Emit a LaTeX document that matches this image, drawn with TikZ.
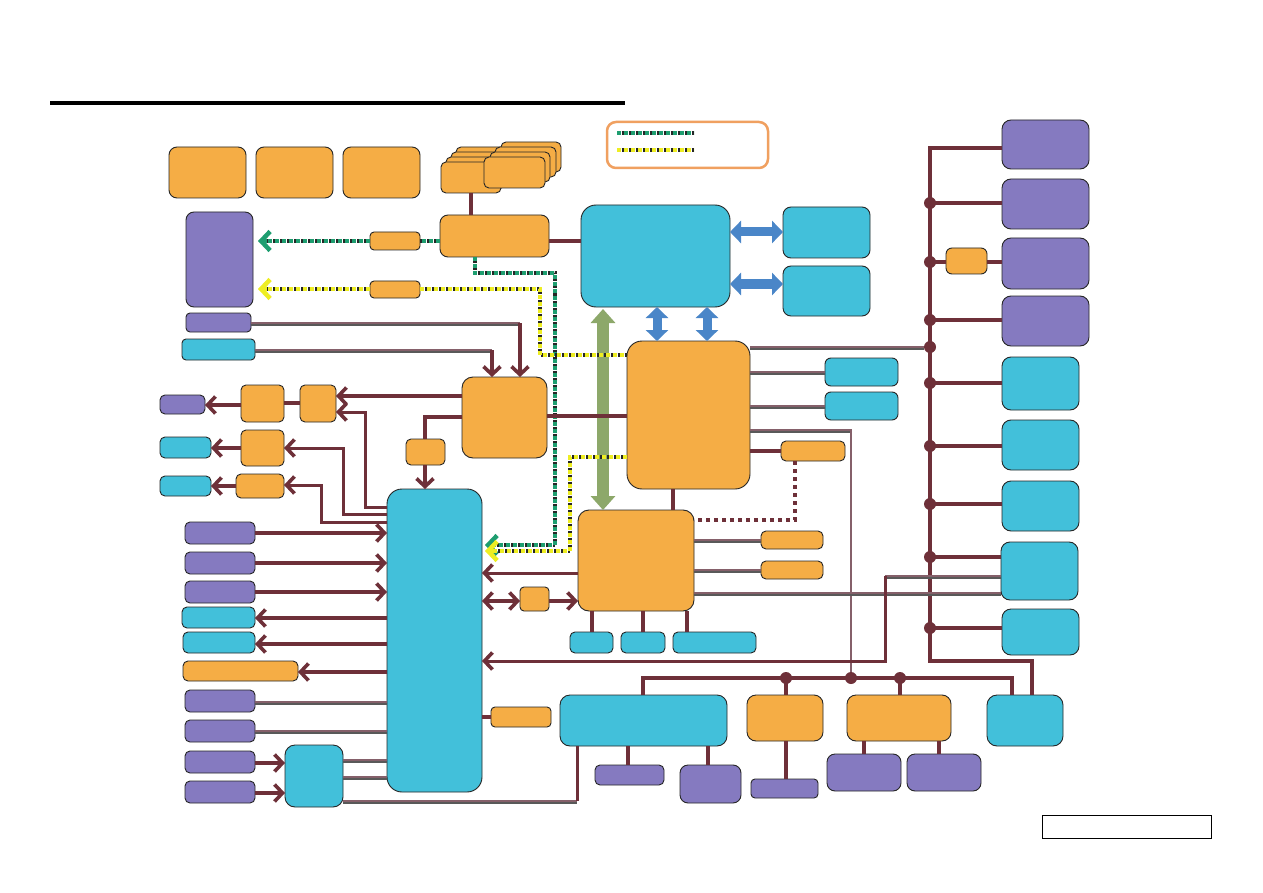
\documentclass[tikz,border=0pt]{standalone}
\usetikzlibrary{arrows.meta,fit,calc}
\definecolor{org}{HTML}{F5AD45}
\definecolor{cya}{HTML}{42C0DA}
\definecolor{pur}{HTML}{857AC0}
\definecolor{mar}{HTML}{6E3039}
\definecolor{mauve}{HTML}{85606A}
\definecolor{grn}{HTML}{1E9E70}
\definecolor{ylw}{HTML}{EEEE22}
\definecolor{bigg}{HTML}{8DA86A}
\definecolor{blu}{HTML}{4A86C8}
\definecolor{legc}{HTML}{F0A060}
\newcommand\bx[5][6pt]{\node[box,rounded corners=#1,fill=#3,fit={#4 #5}] (#2) {};}
\begin{document}
\begin{tikzpicture}[x=1pt,y=-1pt,
  box/.style={draw=black!85, line width=0.9pt, inner sep=0pt, outer sep=0pt},
  ln/.style={draw=mar, line width=3.8pt},
  thn/.style={draw=mar, line width=3pt},
  dl/.style={draw=mauve, line width=2.8pt, preaction={draw=black!65, line width=2.6pt, transform canvas={yshift=-1.6pt}}},
  tip/.style={-{Straight Barb[length=8pt,width=17pt,line width=3.6pt]}},
  tips/.style={{Straight Barb[length=8pt,width=17pt,line width=3.6pt]}-{Straight Barb[length=8pt,width=17pt,line width=3.6pt]}},
  gtip/.style={-{Straight Barb[length=9pt,width=19pt,line width=4.5pt]}},
  gdot/.style={draw=grn, line width=3.4pt, dash pattern=on 4pt off 3pt, preaction={draw=black!85, line width=3.4pt, dash pattern=on 2pt off 5pt, dash phase=-4.5pt}},
  ydot/.style={draw=ylw, line width=3.4pt, dash pattern=on 4pt off 3pt, preaction={draw=black!85, line width=3.4pt, dash pattern=on 2pt off 5pt, dash phase=-4.5pt}},
  mdot/.style={draw=mar, line width=3.4pt, dash pattern=on 4pt off 4pt},
  jdot/.style={circle, fill=mar, inner sep=0pt, minimum size=12pt},
  blarrow/.style={draw=blu, line width=9pt, {Triangle[length=11pt,width=22pt]}-{Triangle[length=11pt,width=22pt]}},
  grarrow/.style={draw=bigg, line width=12pt, {Triangle[length=14pt,width=24pt]}-{Triangle[length=14pt,width=24pt]}}
]
\useasboundingbox (0,0) rectangle (1263,893);
\fill[white] (0,0) rectangle (1263,893);
% title rule
\draw[line width=4pt] (50,103) -- (625,103);
% legend
\node[draw=legc, line width=2.5pt, rounded corners=9pt, fit={(607,122) (768,168)}, inner sep=0pt] (leg) {};
\draw[gdot] (617,133) -- (694,133);
\draw[ydot] (617,150) -- (694,150);
% footer box
\node[draw=black, line width=1pt, fit={(1042,815) (1211,838)}, inner sep=0pt] (foot) {};
% top row
\bx[8pt]{o1}{org}{(169,147)}{(246,198)}
\bx[8pt]{o2}{org}{(256,147)}{(333,198)}
\bx[8pt]{o3}{org}{(343,147)}{(420,198)}
% stacks
\bx[5pt]{sl4}{org}{(456,147)}{(516,178)}
\bx[5pt]{sl3}{org}{(451,152)}{(511,183)}
\bx[5pt]{sl2}{org}{(446,157)}{(506,188)}
\bx[5pt]{sl1}{org}{(441,162)}{(501,193)}
\bx[5pt]{sr4}{org}{(501,142)}{(561,172)}
\bx[5pt]{sr3}{org}{(495,147)}{(556,177)}
\bx[5pt]{sr2}{org}{(490,152)}{(550,182)}
\bx[5pt]{sr1}{org}{(484,157)}{(545,188)}
% upper center
\bx[8pt]{ohub}{org}{(440,215)}{(549,257)}
\bx[15pt]{cpu}{cya}{(581,205)}{(730,307)}
\bx[8pt]{c1}{cya}{(783,207)}{(870,258)}
\bx[8pt]{c2}{cya}{(783,266)}{(870,316)}
\bx[8pt]{pl}{pur}{(186,212)}{(253,307)}
\bx[4pt]{os1}{org}{(370,232)}{(420,250)}
\bx[4pt]{os2}{org}{(370,281)}{(420,298)}
\bx[4pt]{ps1}{pur}{(186,313)}{(251,332)}
\bx[4pt]{cs1}{cya}{(182,339)}{(255,360)}
% north bridge & right
\bx[15pt]{nb}{org}{(627,341)}{(750,489)}
\bx[6pt]{c3}{cya}{(825,358)}{(898,386)}
\bx[6pt]{c4}{cya}{(825,392)}{(898,420)}
\bx[5pt]{os3}{org}{(781,441)}{(845,461)}
% south bridge
\bx[11pt]{sb}{org}{(578,510)}{(694,611)}
\bx[5pt]{o5}{org}{(761,531)}{(823,549)}
\bx[5pt]{o6}{org}{(761,561)}{(823,579)}
\bx[5pt]{c5}{cya}{(570,632)}{(613,653)}
\bx[5pt]{c6}{cya}{(621,632)}{(665,653)}
\bx[5pt]{c7}{cya}{(673,632)}{(756,653)}
\bx[4pt]{o7}{org}{(520,587)}{(549,611)}
% EC / main left column
\bx[15pt]{ec}{cya}{(387,489)}{(482,792)}
\bx[11pt]{oh2}{org}{(462,377)}{(547,458)}
\bx[5pt]{o8}{org}{(300,385)}{(336,422)}
\bx[5pt]{o9}{org}{(241,385)}{(284,422)}
\bx[5pt]{p2}{pur}{(160,395)}{(205,414)}
\bx[5pt]{o10}{org}{(406,439)}{(445,465)}
\bx[5pt]{o11}{org}{(241,430)}{(284,466)}
\bx[5pt]{o12}{org}{(236,474)}{(284,498)}
\bx[5pt]{c8}{cya}{(160,437)}{(211,458)}
\bx[5pt]{c9}{cya}{(160,476)}{(211,496)}
\bx[5pt]{p3}{pur}{(185,522)}{(255,544)}
\bx[5pt]{p4}{pur}{(185,552)}{(255,574)}
\bx[5pt]{p5}{pur}{(185,581)}{(255,603)}
\bx[5pt]{c10}{cya}{(182,607)}{(255,628)}
\bx[5pt]{c11}{cya}{(183,632)}{(255,653)}
\bx[5pt]{o13}{org}{(183,661)}{(298,681)}
\bx[5pt]{p6}{pur}{(185,690)}{(255,712)}
\bx[5pt]{p7}{pur}{(185,720)}{(255,742)}
\bx[5pt]{p8}{pur}{(185,751)}{(255,773)}
\bx[5pt]{p9}{pur}{(185,781)}{(255,803)}
\bx[10pt]{c12}{cya}{(285,745)}{(343,807)}
\bx[4pt]{o14}{org}{(491,707)}{(551,727)}
% bottom
\bx[10pt]{c13}{cya}{(560,695)}{(727,746)}
\bx[9pt]{o15}{org}{(747,695)}{(823,741)}
\bx[9pt]{o16}{org}{(847,695)}{(951,741)}
\bx[10pt]{cr}{cya}{(987,695)}{(1063,746)}
\bx[5pt]{p10}{pur}{(595,765)}{(664,785)}
\bx[8pt]{p11}{pur}{(680,765)}{(741,803)}
\bx[4pt]{p12}{pur}{(751,779)}{(818,798)}
\bx[8pt]{p13}{pur}{(827,754)}{(901,791)}
\bx[8pt]{p14}{pur}{(907,754)}{(981,791)}
% right column
\bx[9pt]{r1}{pur}{(1002,120)}{(1089,169)}
\bx[9pt]{r2}{pur}{(1002,179)}{(1089,229)}
\bx[9pt]{r3}{pur}{(1002,238)}{(1089,289)}
\bx[9pt]{r4}{pur}{(1002,296)}{(1089,346)}
\bx[9pt]{r5}{cya}{(1002,357)}{(1079,410)}
\bx[9pt]{r6}{cya}{(1002,420)}{(1079,470)}
\bx[9pt]{r7}{cya}{(1002,481)}{(1079,531)}
\bx[9pt]{r8}{cya}{(1001,542)}{(1078,600)}
\bx[9pt]{r9}{cya}{(1002,609)}{(1079,655)}
\bx[6pt]{osr}{org}{(946,248)}{(987,274)}
% ---------------- connectors
% right bus
\coordinate (rbt) at (930,148);
\coordinate (rbb) at (930,661);
\draw[ln, line width=4pt] (r1.west |- rbt) -- (rbt) -- (rbb) -- (1032,661) -- (cr.north -| 1032,0);
\foreach \n/\y in {r2/203, r4/320, r5/383, r6/446, r7/504, r8/557, r9/628}{
  \draw[ln] (930,\y) -- (\n.west |- 0,\y);
}
\draw[ln] (930,262) -- (osr.west |- 0,262);
\draw[ln] (osr.east |- 0,262) -- (r3.west |- 0,262);
\foreach \y in {203,262,320,347,383,446,504,557,628}{ \node[jdot] (j\y) at (930,\y) {}; }
% bottom bus
\draw[ln] (c13.north -| 643,0) -- (643,678) -- (1012,678) -- (cr.north -| 1012,0);
\draw[ln] (786,678) -- (o15.north -| 786,0);
\draw[ln] (900,678) -- (o16.north -| 900,0);
\draw[dl] (nb.east |- 0,430) -- (851,430) -- (851,678);
\node[jdot] (b1) at (786,678) {};
\node[jdot] (b2) at (851,678) {};
\node[jdot] (b3) at (900,678) {};
% top connections
\draw[ln] (471,193) -- (ohub.north -| 471,0);
\draw[ln] (ohub.east |- 0,241) -- (cpu.west |- 0,241);
\draw[blarrow] (cpu.east |- 0,232) -- (c1.west |- 0,232);
\draw[blarrow] (cpu.east |- 0,284) -- (c2.west |- 0,284);
\draw[blarrow] (cpu.south -| 657,0) -- (nb.north -| 657,0);
\draw[blarrow] (cpu.south -| 707,0) -- (nb.north -| 707,0);
\draw[grarrow] ($(cpu.south -| 603,0)+(0,2)$) -- (sb.north -| 603,0);
% dotted signals
\draw[gdot] (ohub.west |- 0,241) -- (os1.east |- 0,241);
\draw[gdot] (os1.west |- 0,241) -- ($(pl.east |- 0,241)+(12,0)$);
\draw[grn, line width=4pt, gtip] ($(pl.east |- 0,241)+(14,0)$) -- ($(pl.east |- 0,241)+(5,0)$);
\draw[gdot] (ohub.south -| 475,0) -- (475,273) -- (555,273) -- (555,545) -- ($(ec.east |- 0,545)+(12,0)$);
\draw[grn, line width=4pt, gtip] ($(ec.east |- 0,545)+(14,0)$) -- ($(ec.east |- 0,545)+(3,0)$);
\draw[ydot] (os2.east |- 0,289) -- (540,289) -- (540,355) -- (nb.west |- 0,355);
\draw[ydot] (os2.west |- 0,289) -- ($(pl.east |- 0,289)+(12,0)$);
\draw[ylw, line width=4pt, gtip] ($(pl.east |- 0,289)+(14,0)$) -- ($(pl.east |- 0,289)+(5,0)$);
\draw[ydot] (nb.west |- 0,457) -- (570,457) -- (570,551) -- ($(ec.east |- 0,551)+(12,0)$);
\draw[ylw, line width=4pt, gtip] ($(ec.east |- 0,551)+(14,0)$) -- ($(ec.east |- 0,551)+(3,0)$);
\draw[mdot] (os3.south -| 795,0) -- (795,520) -- (sb.east |- 0,520);
% north bridge connections
\draw[dl] (nb.east |- 0,347) -- (j347);
\draw[dl] (nb.east |- 0,372) -- (c3.west |- 0,372);
\draw[dl] (nb.east |- 0,406) -- (c4.west |- 0,406);
\draw[ln] (nb.east |- 0,451) -- (os3.west |- 0,451);
\draw[ln] (nb.south -| 673,0) -- (sb.north -| 673,0);
\draw[ln] (oh2.east |- 0,416) -- (nb.west |- 0,416);
% south bridge connections
\draw[dl] (sb.east |- 0,540) -- (o5.west |- 0,540);
\draw[dl] (sb.east |- 0,570) -- (o6.west |- 0,570);
\draw[dl] (sb.east |- 0,593) -- (r8.west |- 0,593);
\draw[dl] (r8.west |- 0,576) -- (885,576);
\draw[thn, tip] (885,576) -- (885,661) -- (ec.east |- 0,661);
\draw[ln] (sb.south -| 592,0) -- (c5.north -| 592,0);
\draw[ln] (sb.south -| 643,0) -- (c6.north -| 643,0);
\draw[ln] (sb.south -| 687,0) -- (c7.north -| 687,0);
\draw[thn, tip] (sb.west |- 0,573) -- (ec.east |- 0,573);
\draw[ln, tips] (ec.east |- 0,601) -- (o7.west |- 0,601);
\draw[ln, tip] (o7.east |- 0,601) -- (sb.west |- 0,601);
% hub 2 connections
\draw[dl] (ps1.east |- 0,323) -- (520,323);
\draw[ln, tip] (520,323) -- (oh2.north -| 520,0);
\draw[dl] (cs1.east |- 0,350) -- (492,350);
\draw[ln, tip] (492,350) -- (oh2.north -| 492,0);
\draw[ln, tip] (oh2.west |- 0,396) -- (o8.east |- 0,396);
\draw[ln] (o9.east |- 0,403) -- (o8.west |- 0,403);
\draw[ln, tip] (o9.west |- 0,405) -- (p2.east |- 0,405);
\draw[ln] (oh2.west |- 0,417) -- (425,417) -- (o10.north -| 425,0);
\draw[ln, tip] (o10.south -| 425,0) -- (ec.north -| 425,0);
\draw[thn, tip] (ec.west |- 0,507) -- (365,507) -- (365,412) -- (o8.east |- 0,412);
\draw[thn, tip] (ec.west |- 0,514) -- (343,514) -- (343,448) -- (o11.east |- 0,448);
\draw[thn, tip] (ec.west |- 0,522) -- (321,522) -- (321,485) -- (o12.east |- 0,485);
\draw[ln, tip] (o11.west |- 0,448) -- (c8.east |- 0,448);
\draw[ln, tip] (o12.west |- 0,486) -- (c9.east |- 0,486);
% EC left side
\draw[ln, tip] (p3.east |- 0,533) -- (ec.west |- 0,533);
\draw[ln, tip] (p4.east |- 0,563) -- (ec.west |- 0,563);
\draw[ln, tip] (p5.east |- 0,592) -- (ec.west |- 0,592);
\draw[ln, tip] (ec.west |- 0,618) -- (c10.east |- 0,618);
\draw[ln, tip] (ec.west |- 0,644) -- (c11.east |- 0,644);
\draw[ln, tip] (ec.west |- 0,672) -- (o13.east |- 0,672);
\draw[dl] (p6.east |- 0,702) -- (ec.west |- 0,702);
\draw[dl] (p7.east |- 0,731) -- (ec.west |- 0,731);
\draw[ln, tip] (p8.east |- 0,763) -- (c12.west |- 0,763);
\draw[ln, tip] (p9.east |- 0,793) -- (c12.west |- 0,793);
\draw[dl] (c12.east |- 0,760) -- (ec.west |- 0,760);
\draw[dl] (c12.east |- 0,777) -- (ec.west |- 0,777);
\draw[dl] (c12.east |- 0,801) -- (577,801);
\draw[thn] (577,801) -- (c13.south -| 577,0);
\draw[ln] (ec.east |- 0,717) -- (o14.west |- 0,717);
% bottom row
\draw[ln] (c13.south -| 628,0) -- (p10.north -| 628,0);
\draw[ln] (c13.south -| 708,0) -- (p11.north -| 708,0);
\draw[ln] (o15.south -| 786,0) -- (p12.north -| 786,0);
\draw[ln] (o16.south -| 864,0) -- (p13.north -| 864,0);
\draw[ln] (o16.south -| 939,0) -- (p14.north -| 939,0);
\end{tikzpicture}
\end{document}
